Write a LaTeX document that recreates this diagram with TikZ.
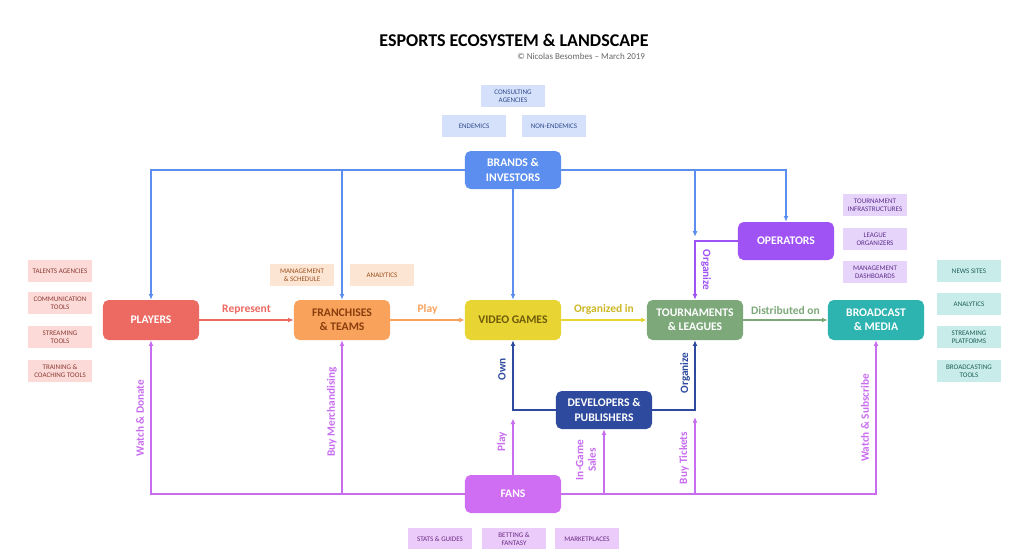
\documentclass[tikz,border=0pt]{standalone}
\usepackage{fontspec}
\setmainfont{Carlito}
\usetikzlibrary{arrows.meta}

\definecolor{playerred}{HTML}{EC6A62}
\definecolor{franchorange}{HTML}{F9A25B}
\definecolor{franchtext}{HTML}{8A3E0E}
\definecolor{gameyellow}{HTML}{E8D432}
\definecolor{gametext}{HTML}{6E5B0A}
\definecolor{orgyellow}{HTML}{CDB826}
\definecolor{tourngreen}{HTML}{7DA97A}
\definecolor{bcastteal}{HTML}{2DB4B1}
\definecolor{brandblue}{HTML}{5B8EEE}
\definecolor{opviolet}{HTML}{A053F4}
\definecolor{devblue}{HTML}{2E4A9E}
\definecolor{fanpurple}{HTML}{D06EF3}
\definecolor{fanline}{HTML}{C86DF0}
\definecolor{pinkbg}{HTML}{FBDAD7}
\definecolor{pinktext}{HTML}{8E3B35}
\definecolor{peachbg}{HTML}{FDE5D3}
\definecolor{peachtext}{HTML}{9A4F1C}
\definecolor{skybg}{HTML}{D5E1FB}
\definecolor{skytext}{HTML}{2D4A8C}
\definecolor{lilacbg}{HTML}{E7D4FB}
\definecolor{lilactext}{HTML}{5B2D8C}
\definecolor{mintbg}{HTML}{C7ECE9}
\definecolor{minttext}{HTML}{1F5E5A}
\definecolor{fanbg}{HTML}{EBCBF9}
\definecolor{fantext}{HTML}{6A2A85}

\begin{document}
\begin{tikzpicture}[x=0.025cm,y=-0.025cm,>={Latex[length=4pt,width=3.5pt]}]
	\tikzset{box/.style = {rounded corners=4pt,minimum width=2.4cm,minimum height=1cm,align=center,inner sep=1pt,text=white,font=\bfseries\fontsize{8.3}{10}\selectfont}}
	
	\tikzset{tag/.style = {minimum width=1.6cm,minimum height=0.53cm,align=center,inner sep=1pt,font=\fontsize{5}{5.8}\selectfont}}
	
	\tikzset{link/.style = {line width=1pt,->}}
	
	\tikzset{lbl/.style = {font=\bfseries\fontsize{8.2}{9.5}\selectfont}}
	
	\tikzset{vlbl/.style = {rotate=90,align=center,font=\bfseries\fontsize{8}{9}\selectfont}}
	
	\useasboundingbox[fill=white] (0,0) rectangle (1012,548);
	
	% title
	
	\node[font=\bfseries\fontsize{12.8}{14}\selectfont] (title) at (514,40) {ESPORTS ECOSYSTEM \& LANDSCAPE};
	
	\node[anchor=east,text=gray!80!black,font=\fontsize{6.4}{7}\selectfont] (credit) at (650,56) {\textcopyright{} Nicolas Besombes -- March 2019};
	
	% main actors
	
	\node[box,fill=playerred] (players) at (151,320) {PLAYERS};
	
	\node[box,fill=franchorange,text=franchtext] (franchises) at (342,320) {FRANCHISES\\\& TEAMS};
	
	\node[box,fill=gameyellow,text=gametext] (games) at (513,320) {VIDEO GAMES};
	
	\node[box,fill=tourngreen] (tournaments) at (695,320) {TOURNAMENTS\\\& LEAGUES};
	
	\node[box,fill=bcastteal] (broadcast) at (876,320) {BROADCAST\\\& MEDIA};
	
	\node[box,fill=brandblue,minimum height=0.95cm] (brands) at (513,170) {BRANDS \&\\INVESTORS};
	
	\node[box,fill=opviolet,minimum height=0.95cm] (operators) at (786,241) {OPERATORS};
	
	\node[box,fill=devblue,minimum height=0.95cm] (devs) at (604,410) {DEVELOPERS \&\\PUBLISHERS};
	
	\node[box,fill=fanpurple,minimum height=0.95cm] (fans) at (513,494) {FANS};
	
	% side boxes
	
	\node[tag,fill=skybg,text=skytext] (consulting) at (513,96) {CONSULTING\\AGENCIES};
	\node[tag,fill=skybg,text=skytext] (endemics) at (474,126) {ENDEMICS};
	\node[tag,fill=skybg,text=skytext] (nonendemics) at (554,126) {NON-ENDEMICS};
	
	\node[tag,fill=pinkbg,text=pinktext] (talents) at (60,271) {TALENTS AGENCIES};
	\node[tag,fill=pinkbg,text=pinktext] (commtools) at (60,303) {COMMUNICATION\\TOOLS};
	\node[tag,fill=pinkbg,text=pinktext] (streamtools) at (60,337) {STREAMING\\TOOLS};
	\node[tag,fill=pinkbg,text=pinktext] (training) at (60,371) {TRAINING \&\\COACHING TOOLS};
	
	\node[tag,fill=peachbg,text=peachtext] (management) at (302,275) {MANAGEMENT\\\& SCHEDULE};
	\node[tag,fill=peachbg,text=peachtext] (teamanalytics) at (382,275) {ANALYTICS};
	
	\node[tag,fill=lilacbg,text=lilactext] (infra) at (875,205) {TOURNAMENT\\INFRASTRUCTURES};
	\node[tag,fill=lilacbg,text=lilactext] (leagueorg) at (875,239) {LEAGUE\\ORGANIZERS};
	\node[tag,fill=lilacbg,text=lilactext] (dashboards) at (875,272) {MANAGEMENT\\DASHBOARDS};
	
	\node[tag,fill=mintbg,text=minttext] (news) at (969,271) {NEWS SITES};
	\node[tag,fill=mintbg,text=minttext] (mediaanalytics) at (969,304) {ANALYTICS};
	\node[tag,fill=mintbg,text=minttext] (platforms) at (969,337) {STREAMING\\PLATFORMS};
	\node[tag,fill=mintbg,text=minttext] (bcasttools) at (969,371) {BROADCASTING\\TOOLS};
	
	\node[tag,fill=fanbg,text=fantext] (stats) at (440,539) {STATS \& GUIDES};
	\node[tag,fill=fanbg,text=fantext] (betting) at (514,539) {BETTING \&\\FANTASY};
	\node[tag,fill=fanbg,text=fantext] (markets) at (587,539) {MARKETPLACES};
	
	% corners
	
	\coordinate (opcorner) at (695,241);
	\coordinate (owncorner) at (513,410);
	\coordinate (orgcorner) at (695,410);
	
	% brands
	
	\begin{scope}[every path/.style={link,draw=brandblue}]
	\draw (brands.west) -| (players.north);
	\draw (brands.west) -| (franchises.north);
	\draw (brands.south) -- (games.north);
	\draw (brands.east) -| (operators.north);
	\draw[shorten >=3pt] (brands.east) -| (opcorner);
	\end{scope}
	
	% value chain
	
	\draw[link,draw=playerred] (players) -- node[lbl,above,text=playerred] {Represent} (franchises);
	\draw[link,draw=franchorange] (franchises) -- node[lbl,above,text=franchorange] {Play} (games);
	\draw[link,draw=gameyellow] (games) -- node[lbl,above,text=orgyellow] {Organized in} (tournaments);
	\draw[link,draw=tourngreen] (tournaments) -- node[lbl,above,text=tourngreen] {Distributed on} (broadcast);
	
	\draw[link,draw=opviolet] (operators.west) -| (tournaments.north);
	\node[vlbl,rotate=180,text=opviolet] (organize1) at (706,270) {Organize};
	
	% developers
	
	\draw[link,draw=devblue] (devs.west) -| (games.south);
	\draw[link,draw=devblue] (devs.east) -| (tournaments.south);
	\node[vlbl,text=devblue] (own) at (502,369) {Own};
	\node[vlbl,text=devblue] (organize2) at (685,373) {Organize};
	
	% fans
	
	\begin{scope}[every path/.style={link,draw=fanline}]
	\draw (fans.west) -| (players.south);
	\draw (fans.west) -| (franchises.south);
	\draw (fans.east) -| (broadcast.south);
	\draw (fans.east) -| (devs.south);
	\draw[shorten >=5pt] (fans.east) -| (orgcorner);
	\draw[shorten >=6pt] (fans.north) -- (owncorner);
	\end{scope}
	
	\node[vlbl,text=fanline] (watchdonate) at (140,418) {Watch \& Donate};
	\node[vlbl,text=fanline] (merch) at (332,412) {Buy Merchandising};
	\node[vlbl,text=fanline] (playfans) at (502,442) {Play};
	\node[vlbl,text=fanline] (ingame) at (586,460) {In-Game\\Sales};
	\node[vlbl,text=fanline] (tickets) at (684,458) {Buy Tickets};
	\node[vlbl,text=fanline] (subscribe) at (865,418) {Watch \& Subscribe};
\end{tikzpicture}
\end{document}
